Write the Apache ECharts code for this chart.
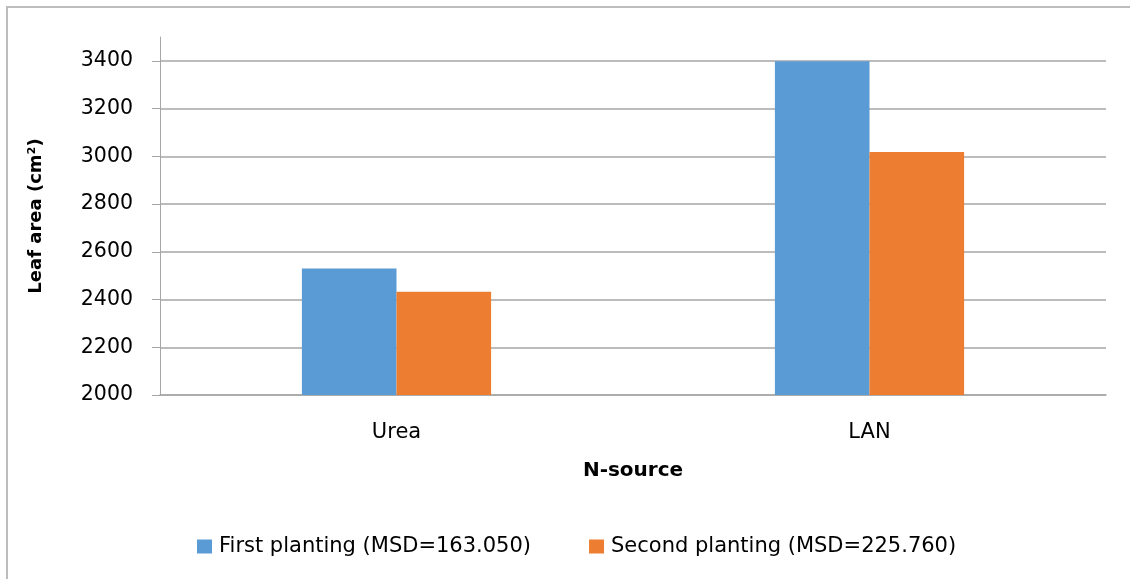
<!DOCTYPE html>
<html>
<head>
<meta charset="utf-8">
<script src="https://cdn.jsdelivr.net/npm/echarts@6/dist/echarts.min.js"></script>
<style>
  html, body { margin: 0; padding: 0; background: #fff; }
  #frame { position: absolute; left: 6px; top: 6px; width: 1200px; height: 700px; border-left: 2px solid #bdbdbd; border-top: 2px solid #bdbdbd; }
  #chart { position: absolute; left: 0; top: 0; width: 1130px; height: 579px; }
</style>
</head>
<body>
<div id="frame"></div>
<div id="chart"></div>
<script>
const categories = ['Urea', 'LAN'];
const firstPlanting = [2530, 3398];
const secondPlanting = [2433, 3018];
const seriesNames = ['First planting (MSD=163.050)', 'Second planting (MSD=225.760)'];
const yMin = 2000, yMax = 3500, yStep = 200;

const FONT = '"DejaVu Sans", "Open Sans", sans-serif';
const GRID = '#a6a6a6';

const chart = echarts.init(document.getElementById('chart'), null, { renderer: 'canvas' });
chart.setOption({
  animation: false,
  backgroundColor: 'transparent',
  textStyle: { fontFamily: FONT },
  grid: { left: 160, right: 24, top: 37, bottom: 184, containLabel: false },
  legend: {
    bottom: 17,
    left: 192,
    itemWidth: 15,
    itemHeight: 14,
    itemGap: 58,
    icon: 'rect',
    textStyle: { fontFamily: FONT, fontSize: 21, color: '#000', padding: [0, 0, 0, 2] },
    data: seriesNames
  },
  xAxis: {
    type: 'category',
    data: categories,
    name: 'N-source',
    nameLocation: 'middle',
    nameGap: 66,
    nameTextStyle: { fontFamily: FONT, fontSize: 20, fontWeight: 'bold', color: '#000' },
    axisLine: { show: true, lineStyle: { color: GRID, width: 1.5 } },
    axisTick: { show: false },
    axisLabel: { fontFamily: FONT, fontSize: 21, color: '#000', margin: 27 }
  },
  yAxis: {
    type: 'value',
    min: yMin,
    max: yMax,
    interval: yStep,
    name: 'Leaf area (cm²)',
    nameLocation: 'middle',
    nameGap: 115,
    nameTextStyle: { fontFamily: FONT, fontSize: 18, fontWeight: 'bold', color: '#000' },
    axisLine: { show: true, lineStyle: { color: GRID, width: 1 } },
    axisTick: { show: true, inside: false, length: 8, lineStyle: { color: GRID } },
    axisLabel: { fontFamily: FONT, fontSize: 20.5, color: '#000', margin: 27, showMaxLabel: false, formatter: v => String(v) },
    splitLine: { show: true, showMaxLine: false, lineStyle: { color: GRID, width: 1.5 } }
  },
  series: [
    {
      name: seriesNames[0],
      type: 'bar',
      data: firstPlanting,
      barGap: '0%',
      barCategoryGap: '60%',
      itemStyle: { color: '#5b9bd5' }
    },
    {
      name: seriesNames[1],
      type: 'bar',
      data: secondPlanting,
      barGap: '0%',
      barCategoryGap: '60%',
      itemStyle: { color: '#ed7d31' }
    }
  ]
});
</script>
</body>
</html>
